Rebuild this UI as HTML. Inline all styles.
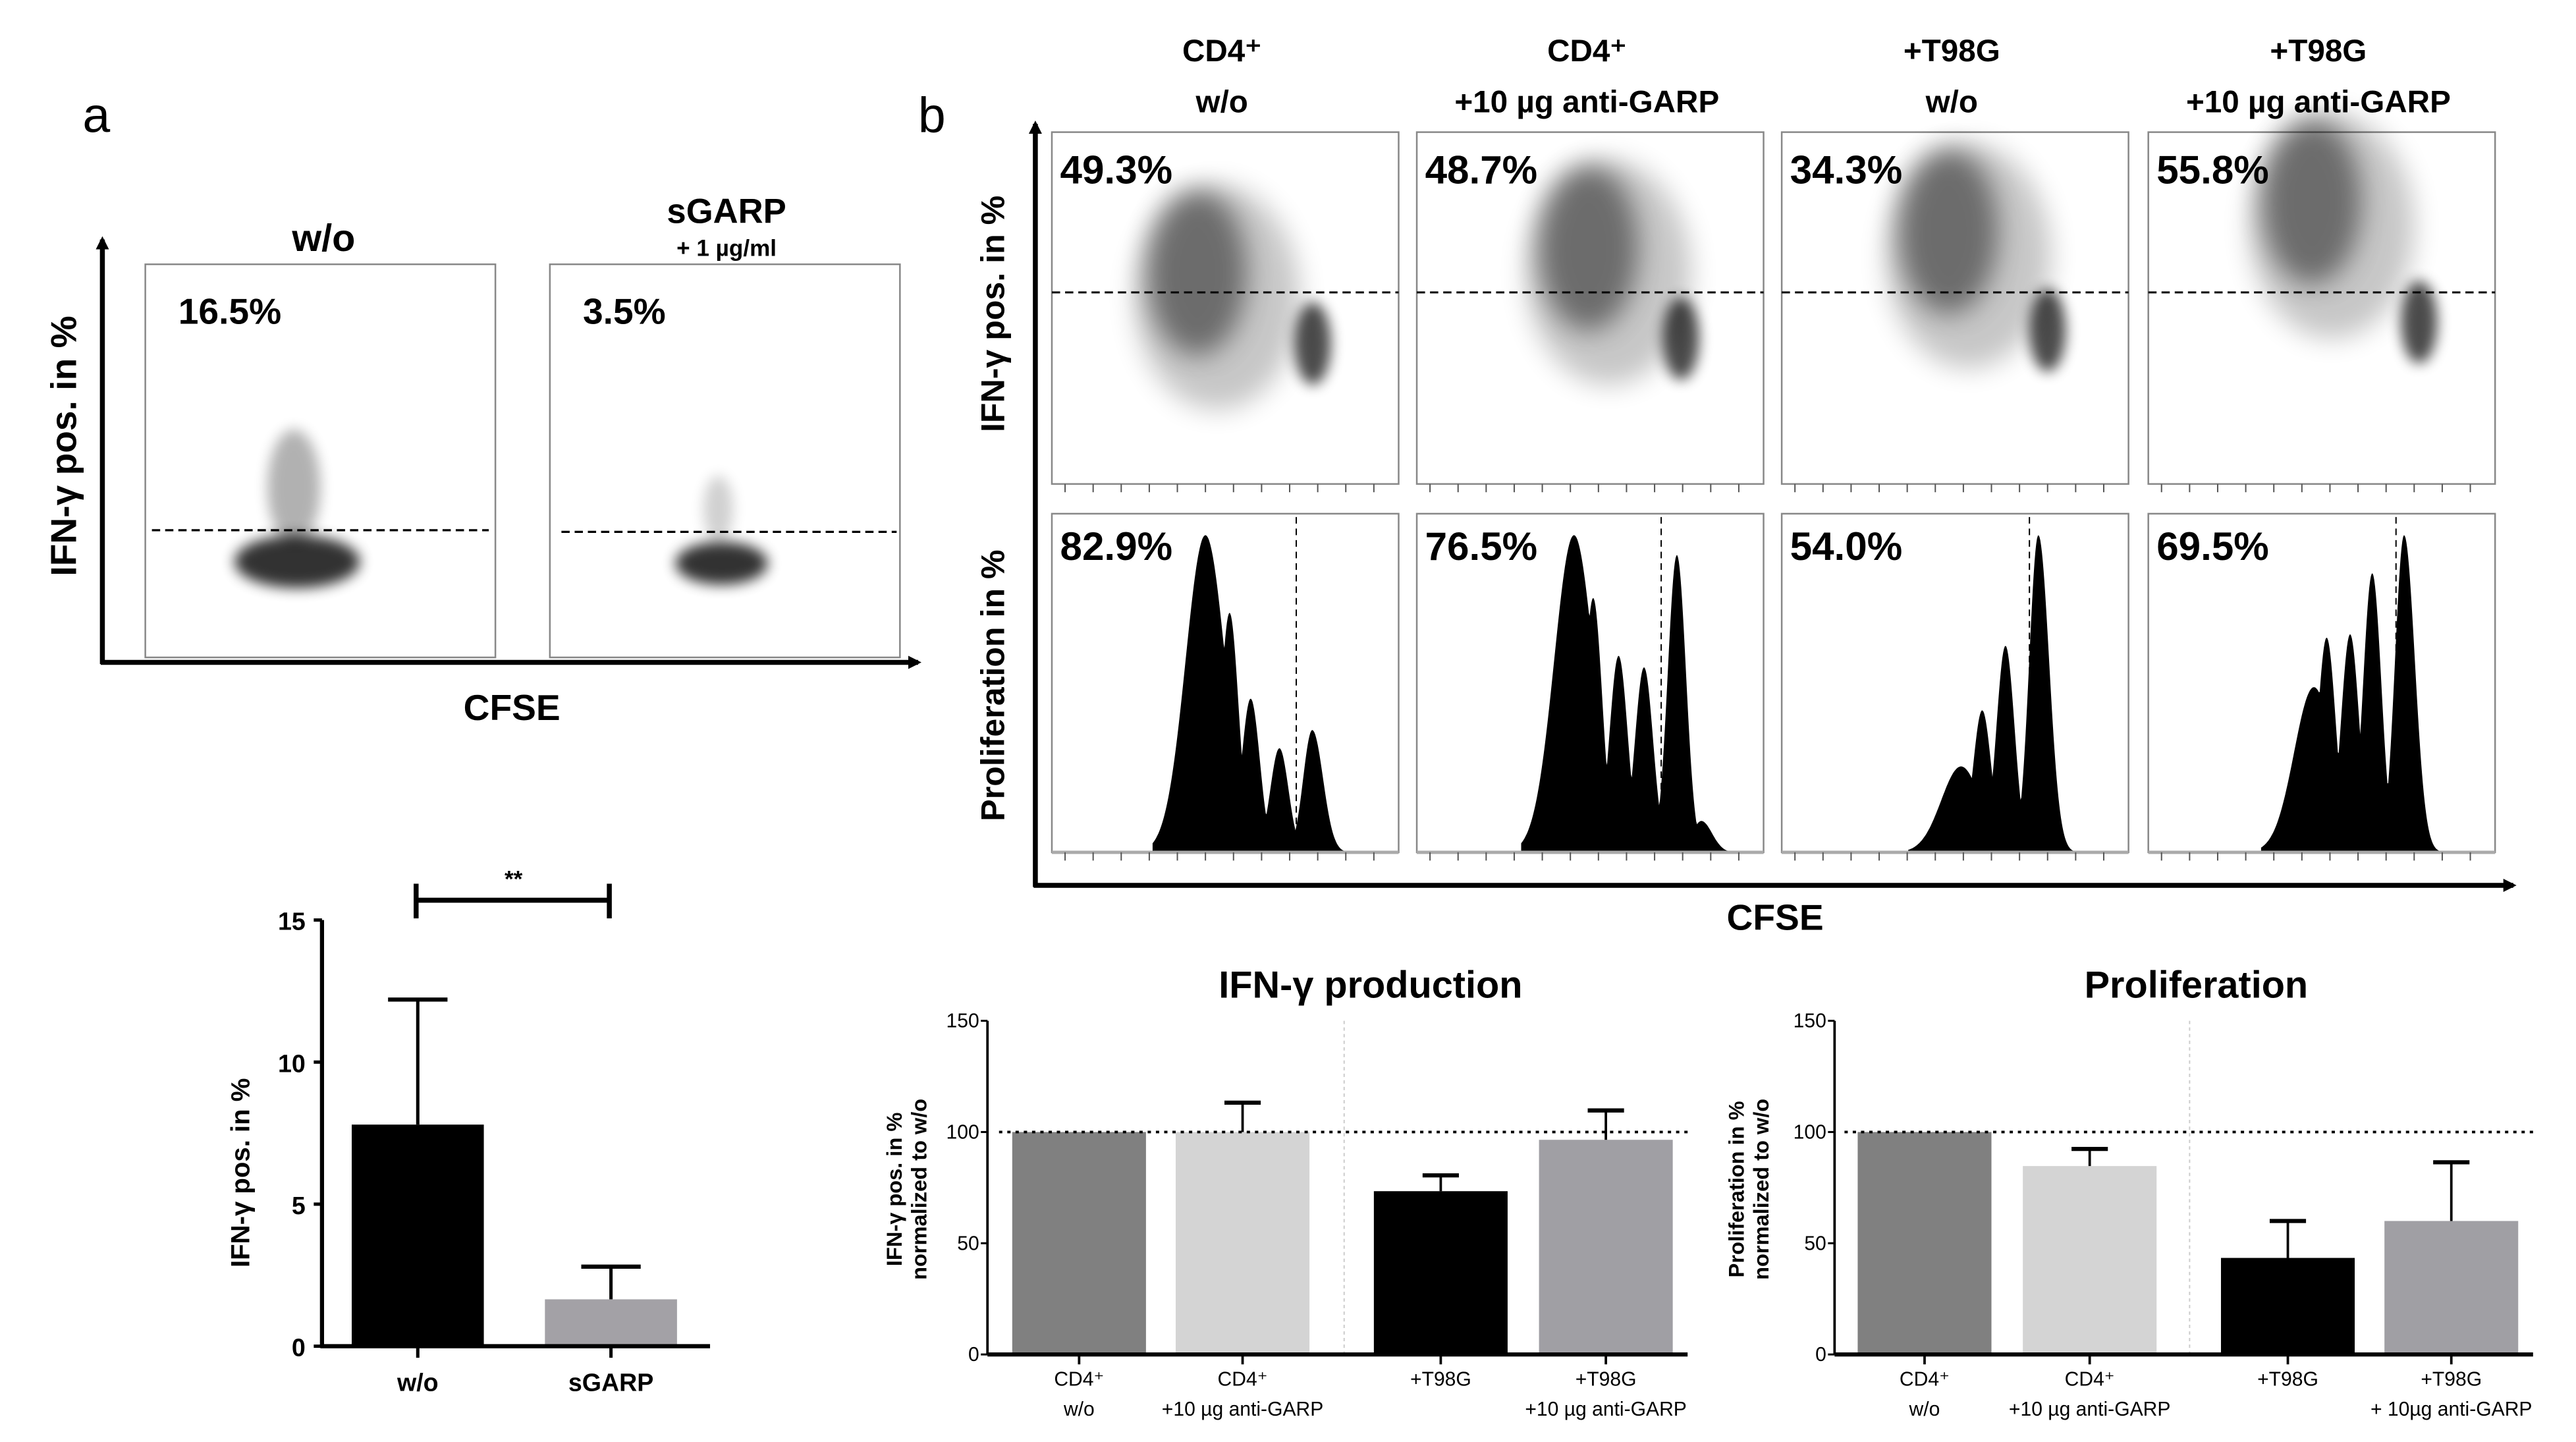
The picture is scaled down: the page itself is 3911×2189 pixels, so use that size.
<!DOCTYPE html>
<html><head><meta charset="utf-8">
<style>
html,body{margin:0;padding:0;background:#fff;}
svg{display:block;}
text{font-family:"Liberation Sans",sans-serif;}
.b{font-weight:bold;}
</style></head>
<body>
<svg id="fig" xmlns="http://www.w3.org/2000/svg" width="3911" height="2189" viewBox="0 0 1560 873" preserveAspectRatio="none">
<defs>
<filter id="blur3" x="-50%" y="-50%" width="200%" height="200%"><feGaussianBlur stdDeviation="4"/></filter>
<filter id="blur6" x="-50%" y="-50%" width="200%" height="200%"><feGaussianBlur stdDeviation="8"/></filter>
<marker id="arr" markerWidth="8" markerHeight="8" refX="6" refY="4" orient="auto" markerUnits="userSpaceOnUse"><path d="M0,0 L8,4 L0,8 z" fill="#000"/></marker>
</defs>

<!-- Panel a -->
<text x="50" y="80" font-size="30">a</text>
<line x1="62" y1="402" x2="62" y2="145" stroke="#000" stroke-width="3" marker-end="url(#arr)"/>
<line x1="61" y1="401" x2="556" y2="401" stroke="#000" stroke-width="3" marker-end="url(#arr)"/>
<text transform="translate(46,270) rotate(-90)" text-anchor="middle" font-size="22" class="b">IFN-γ pos. in %</text>
<text x="310" y="436" text-anchor="middle" font-size="22" class="b">CFSE</text>
<text x="196" y="152" text-anchor="middle" font-size="23" class="b">w/o</text>
<text x="440" y="135" text-anchor="middle" font-size="21" class="b">sGARP</text>
<text x="440" y="155" text-anchor="middle" font-size="14" class="b">+ 1 µg/ml</text>
<g>
<rect x="88" y="160" width="212" height="238" fill="none" stroke="#888" stroke-width="1"/>
<ellipse cx="178" cy="295" rx="16" ry="35" fill="#000" opacity="0.3" filter="url(#blur3)"/>
<ellipse cx="180" cy="340" rx="38" ry="16" fill="#000" opacity="0.8" filter="url(#blur3)"/>
<line x1="92" y1="321" x2="296" y2="321" stroke="#000" stroke-dasharray="5,3" stroke-width="1.3"/>
<text x="108" y="196" font-size="22" class="b">16.5%</text>
</g>
<g>
<rect x="333" y="160" width="212" height="238" fill="none" stroke="#888" stroke-width="1"/>
<ellipse cx="435" cy="308" rx="9" ry="20" fill="#000" opacity="0.18" filter="url(#blur3)"/>
<ellipse cx="437" cy="341" rx="28" ry="13" fill="#000" opacity="0.8" filter="url(#blur3)"/>
<line x1="340" y1="322" x2="543" y2="322" stroke="#000" stroke-dasharray="5,3" stroke-width="1.3"/>
<text x="353" y="196" font-size="22" class="b">3.5%</text>
</g>

<!-- Panel b -->
<text x="556" y="80" font-size="30">b</text>
<line x1="627" y1="537" x2="627" y2="75" stroke="#000" stroke-width="3" marker-end="url(#arr)"/>
<line x1="626" y1="536" x2="1522" y2="536" stroke="#000" stroke-width="3" marker-end="url(#arr)"/>
<text transform="translate(608,190) rotate(-90)" text-anchor="middle" font-size="20" class="b">IFN-γ pos. in %</text>
<text transform="translate(608,415) rotate(-90)" text-anchor="middle" font-size="20" class="b">Proliferation in %</text>
<text x="1075" y="563" text-anchor="middle" font-size="22" class="b">CFSE</text>
<g id="flow"></g>

<g id="barA"></g>
<g id="barB1"></g>
<g id="barB2"></g>
</svg>
<script>
const NS="http://www.w3.org/2000/svg";
function mk(parent,tag,attrs,txt){const e=document.createElementNS(NS,tag);for(const k in attrs)e.setAttribute(k,attrs[k]);if(txt!==undefined)e.textContent=txt;parent.appendChild(e);return e;}

// ---- Panel b flow data ----
const colTitles1=["CD4⁺","CD4⁺","+T98G","+T98G"];
const colTitles2=["w/o","+10 µg anti-GARP","w/o","+10 µg anti-GARP"];
const ifnPct=["49.3%","48.7%","34.3%","55.8%"];
const prolifPct=["82.9%","76.5%","54.0%","69.5%"];
const boxX=[637,858,1079,1301];
const boxW=210;
const cloudUpper=[[725,165],[962,150],[1180,140],[1400,122]];
const cloudLower=[[795,208],[1018,205],[1240,200],[1465,195]];
const histPeaks=[
 [[730,324],[744.6,371],[757.4,423],[774.8,453],[794.7,442]],
 [[953.2,324],[964.8,362],[980.2,397],[995.6,404],[1015.5,336],[1030.3,497]],
 [[1187.6,464],[1200.4,430],[1214.5,391],[1234.4,324]],
 [[1401.3,416],[1409,386],[1423.2,384],[1436.6,347],[1455.9,324]]
];
const histGate=[785,1006,1229,1451];
const histBase=516;

const flow=document.getElementById('flow');
for(let i=0;i<4;i++){
  const cx=boxX[i]+boxW/2;
  let t=mk(flow,'text',{x:cx-2,y:37,'text-anchor':'middle','font-size':19,'class':'b'},colTitles1[i]);
  
  
  t=mk(flow,'text',{x:cx-2,y:68,'text-anchor':'middle','font-size':19,'class':'b'},colTitles2[i]);
  
  
  const g=mk(flow,'g',{});
  
  
  mk(g,'rect',{x:boxX[i],y:80,width:boxW,height:213,fill:'none',stroke:'#888','stroke-width':1});
  const u=cloudUpper[i],l=cloudLower[i];
  mk(g,'ellipse',{cx:u[0]+12,cy:u[1]+15,rx:50,ry:68,fill:'#000',opacity:0.22,filter:'url(#blur6)'});
  mk(g,'ellipse',{cx:u[0],cy:u[1],rx:30,ry:50,fill:'#000',opacity:0.45,filter:'url(#blur6)'});
  mk(g,'ellipse',{cx:l[0],cy:l[1],rx:11,ry:25,fill:'#000',opacity:0.7,filter:'url(#blur3)'});
  mk(g,'line',{x1:boxX[i],y1:177,x2:boxX[i]+boxW,y2:177,stroke:'#000','stroke-dasharray':'5,3','stroke-width':1.2});
  mk(g,'text',{x:boxX[i]+5,y:111,'font-size':24,'class':'b'},ifnPct[i]);
  for(let k=0;k<12;k++)mk(g,'line',{x1:boxX[i]+8+k*17,y1:293,x2:boxX[i]+8+k*17,y2:298,stroke:'#555','stroke-width':0.8});
  const h=mk(flow,'g',{});
  
  
  mk(h,'rect',{x:boxX[i],y:311,width:boxW,height:205,fill:'none',stroke:'#888','stroke-width':1});
  const pk=histPeaks[i];
  const x0=pk[0][0]-32,x1=pk[pk.length-1][0]+22;
  let d='M'+x0+','+histBase;
  for(let x=x0;x<=x1;x+=0.5){
    let m=0;
    pk.forEach((p,j)=>{const hh=histBase-p[1];const s=(j==0)?12:5.5;const s2=(j==pk.length-1)?6.5:s;const dx=x-p[0];const sg=dx<0?s:s2;m=Math.max(m,hh*Math.exp(-dx*dx/(2*sg*sg)));});
    d+=' L'+x.toFixed(1)+','+(histBase-m).toFixed(1);
  }
  d+=' L'+x1+','+histBase+' Z';
  mk(h,'path',{d:d,fill:'#000'});
  mk(h,'line',{x1:boxX[i],y1:histBase,x2:boxX[i]+boxW,y2:histBase,stroke:'#aaa','stroke-width':2});
  mk(h,'line',{x1:histGate[i],y1:313,x2:histGate[i],y2:histBase,stroke:'#000','stroke-dasharray':'4,3','stroke-width':0.8});
  mk(h,'text',{x:boxX[i]+5,y:339,'font-size':24,'class':'b'},prolifPct[i]);
  for(let k=0;k<12;k++)mk(h,'line',{x1:boxX[i]+8+k*17,y1:516,x2:boxX[i]+8+k*17,y2:521,stroke:'#555','stroke-width':0.8});
}

// ---- Panel a bar chart ----
const aCats=["w/o","sGARP"];
const aVals=[7.8,1.65];
const aErr=[12.2,2.8];
const aTicks=[0,5,10,15];
const aColors=["#000","#a3a1a6"];
(function(){
  const g=document.getElementById('barA');
  
  
  const y0=815,ppu=17.2,ax=195;
  const Y=v=>y0-v*ppu;
  const barX=[213,330],bw=80;
  aVals.forEach((v,i)=>{
    const r=mk(g,'rect',{x:barX[i],y:Y(v),width:bw,height:v*ppu,fill:aColors[i]});
    
    
    const c=barX[i]+bw/2;
    mk(g,'line',{x1:c,y1:Y(v),x2:c,y2:Y(aErr[i]),stroke:'#000','stroke-width':2});
    mk(g,'line',{x1:c-18,y1:Y(aErr[i]),x2:c+18,y2:Y(aErr[i]),stroke:'#000','stroke-width':2.5});
    mk(g,'line',{x1:c,y1:y0,x2:c,y2:y0+7,stroke:'#000','stroke-width':2});
    const t=mk(g,'text',{x:c,y:842,'text-anchor':'middle','font-size':15,'class':'b'},aCats[i]);
    
    
  });
  mk(g,'line',{x1:ax,y1:Y(15),x2:ax,y2:y0,stroke:'#000','stroke-width':2.5});
  mk(g,'line',{x1:ax-1,y1:y0,x2:430,y2:y0,stroke:'#000','stroke-width':2.5});
  aTicks.forEach(v=>{
    mk(g,'line',{x1:ax-5,y1:Y(v),x2:ax,y2:Y(v),stroke:'#000','stroke-width':2});
    const t=mk(g,'text',{x:ax-10,y:Y(v)+6,'text-anchor':'end','font-size':15,'class':'b'},v);
    
    
  });
  const yt=mk(g,'text',{transform:'translate(151,710) rotate(-90)','text-anchor':'middle','font-size':16,'class':'b'},'IFN-γ pos. in  %');
  
  
  const br=mk(g,'g',{});
  
  
  mk(br,'line',{x1:252,y1:545,x2:369,y2:545,stroke:'#000','stroke-width':3});
  mk(br,'line',{x1:252,y1:535,x2:252,y2:556,stroke:'#000','stroke-width':3});
  mk(br,'line',{x1:369,y1:535,x2:369,y2:556,stroke:'#000','stroke-width':3});
  mk(br,'text',{x:311,y:537,'text-anchor':'middle','font-size':14,'class':'b'},'**');
})();

// ---- Panel b bar charts ----
const bCatL1=["CD4⁺","CD4⁺","+T98G","+T98G"];
const bCatL2a=["w/o","+10 µg anti-GARP","","+10 µg anti-GARP"];
const bCatL2b=["w/o","+10 µg anti-GARP",""," + 10µg anti-GARP"];
const ifnVals=[100,100,73.4,96.5];
const ifnErr=[100,113.2,80.5,109.7];
const prolVals=[100,84.7,43.4,60];
const prolErr=[100,92.4,60,86.4];
const bTicks=[0,50,100,150];
const bColors=["#808080","#d4d4d4","#000000","#a09fa4"];
function barChart(id,name,ax,barL,sep,xEnd,vals,errs,l2,title,titleX,yl1,yl2,ylx){
  const g=document.getElementById(id);
  
  
  const y0=820,ppu=202/150;
  const Y=v=>y0-v*ppu;
  const bw=81;
  mk(g,'line',{x1:sep,y1:Y(150),x2:sep,y2:y0,stroke:'#ccc','stroke-width':0.8,'stroke-dasharray':'2,2'});
  vals.forEach((v,i)=>{
    const r=mk(g,'rect',{x:barL[i],y:Y(v),width:bw,height:v*ppu,fill:bColors[i]});
    
    
    const c=barL[i]+bw/2;
    if(errs[i]>v){
      mk(g,'line',{x1:c,y1:Y(v),x2:c,y2:Y(errs[i]),stroke:'#000','stroke-width':1.5});
      mk(g,'line',{x1:c-11,y1:Y(errs[i]),x2:c+11,y2:Y(errs[i]),stroke:'#000','stroke-width':2.5});
    }
    mk(g,'line',{x1:c,y1:y0,x2:c,y2:y0+6,stroke:'#000','stroke-width':1.5});
    let t=mk(g,'text',{x:c,y:839,'text-anchor':'middle','font-size':12},bCatL1[i]);
    
    
    if(l2[i]) mk(g,'text',{x:c,y:857,'text-anchor':'middle','font-size':12},l2[i]);
  });
  mk(g,'line',{x1:barL[0]-8,y1:Y(100),x2:xEnd,y2:Y(100),stroke:'#000','stroke-width':1.5,'stroke-dasharray':'2,3'});
  mk(g,'line',{x1:ax,y1:Y(150),x2:ax,y2:y0,stroke:'#000','stroke-width':1.5});
  mk(g,'line',{x1:ax,y1:y0,x2:xEnd,y2:y0,stroke:'#000','stroke-width':2.5});
  bTicks.forEach(v=>{
    mk(g,'line',{x1:ax-4,y1:Y(v),x2:ax,y2:Y(v),stroke:'#000','stroke-width':1.2});
    const t=mk(g,'text',{x:ax-5,y:Y(v)+4,'text-anchor':'end','font-size':12},v);
    
    
  });
  const tt=mk(g,'text',{x:titleX,y:604,'text-anchor':'middle','font-size':23,'class':'b'},title);
  
  
  const y1=mk(g,'text',{transform:'translate('+ylx+',720) rotate(-90)','text-anchor':'middle','font-size':13,'class':'b'},yl1);
  
  
  mk(g,'text',{transform:'translate('+(ylx+15)+',720) rotate(-90)','text-anchor':'middle','font-size':13,'class':'b'},yl2);
}
barChart('barB1','ifn-production-chart',598,[613,712,832,932],814,1022,ifnVals,ifnErr,bCatL2a,'IFN-γ production',830,'IFN-γ pos. in  %','normalized to w/o',546);
barChart('barB2','proliferation-chart',1111,[1125,1225,1345,1444],1326,1534,prolVals,prolErr,bCatL2b,'Proliferation',1330,'Proliferation in %','normalized to w/o',1056);
</script>
</body></html>
